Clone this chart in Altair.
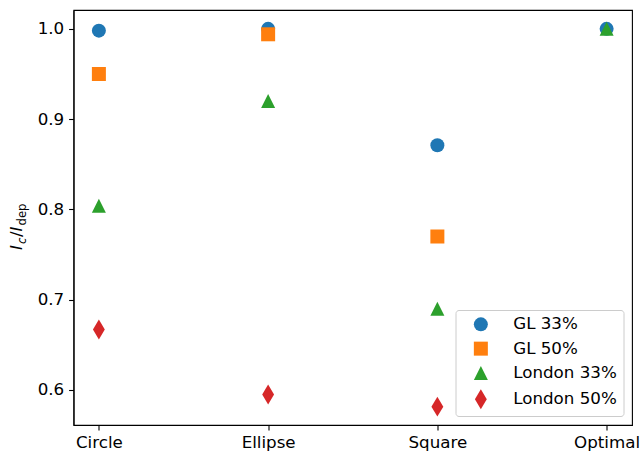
import altair as alt
import pandas as pd

# Categories along the x axis
shapes = ["Circle", "Ellipse", "Square", "Optimal"]

# Series names, in drawing order
series = ["GL 33%", "GL 50%", "London 33%", "London 50%"]

# Critical-current ratio I_c / I_dep for each geometry
gl_33 = [0.998, 1.000, 0.871, 1.000]
gl_50 = [0.950, 0.994, 0.770]
london_33 = [0.804, 0.920, 0.690, 1.000]
london_50 = [0.667, 0.595, 0.5815]

colors = ["#1f77b4", "#ff7f0e", "#2ca02c", "#d62728"]
markers = [
    "circle",
    "square",
    "M0,-1L1,1L-1,1Z",
    "M0,-1.414L0.849,0L0,1.414L-0.849,0Z",
]

rows = []
for name, vals in zip(series, [gl_33, gl_50, london_33, london_50]):
    for shape, v in zip(shapes, vals):
        rows.append({"series": name, "shape": shape, "value": v})
df = pd.DataFrame(rows)
df["idx"] = range(len(df))

FS = 16.7
W, H = 558.5, 415
PAD_L, PAD_T = 73.5, 10

legend_opts = dict(
    title=None,
    orient="bottom-right",
    offset=9,
    fillColor="white",
    strokeColor="#cccccc",
    cornerRadius=3,
    padding=6,
    symbolOffset=11,
    labelOffset=24,
    rowPadding=6.3,
    labelFontSize=FS,
    labelFont="DejaVu Sans",
    labelColor="black",
    symbolSize=196,
    symbolStrokeWidth=0,
)

points = alt.Chart(df).mark_point(filled=True, size=196, opacity=1, strokeWidth=0).encode(
    x=alt.X(
        "shape:N",
        sort=shapes,
        scale=alt.Scale(type="point", padding=0.15),
        axis=alt.Axis(title=None, labelAngle=0),
    ),
    y=alt.Y(
        "value:Q",
        scale=alt.Scale(domain=[0.5612, 1.0209], nice=False, zero=False),
        axis=alt.Axis(title=None, values=[0.6, 0.7, 0.8, 0.9, 1.0], format=".1f"),
    ),
    color=alt.Color(
        "series:N",
        sort=series,
        scale=alt.Scale(domain=series, range=colors),
        legend=alt.Legend(**legend_opts),
    ),
    shape=alt.Shape(
        "series:N",
        sort=series,
        scale=alt.Scale(domain=series, range=markers),
        legend=alt.Legend(**legend_opts),
    ),
    order=alt.Order("idx:Q"),
)

# y-axis label I_c / I_dep built from pieces (main text + subscripts)
label_pieces = [
    ("I", FS, "italic", 22.0, 250.0),
    ("c", FS * 0.7, "italic", 25.5, 244.0),
    ("/", FS, "normal", 22.0, 237.0),
    ("I", FS, "italic", 22.0, 231.5),
    ("dep", FS * 0.7, "normal", 25.5, 225.5),
]
label_layers = []
for txt, size, style, ax, ay in label_pieces:
    label_layers.append(
        alt.Chart(pd.DataFrame({"t": [txt]})).mark_text(
            angle=270,
            align="left",
            baseline="alphabetic",
            fontSize=size,
            fontStyle=style,
            font="DejaVu Sans",
            color="black",
        ).encode(
            text="t:N",
            x=alt.value(ax - PAD_L),
            y=alt.value(ay - PAD_T),
        )
    )

chart = alt.layer(points, *label_layers).properties(
    width=W,
    height=H,
    autosize=alt.AutoSizeParams(type="none"),
    padding={"left": PAD_L, "top": PAD_T, "right": 642 - PAD_L - W, "bottom": 454 - PAD_T - H},
).configure(
    font="DejaVu Sans",
).configure_view(
    stroke="black",
    strokeWidth=1.1,
).configure_axis(
    domainColor="black",
    domainWidth=1.1,
    tickColor="black",
    tickWidth=1.1,
    tickSize=4.9,
    labelPadding=4.9,
    labelFont="DejaVu Sans",
    labelFontSize=FS,
    labelColor="black",
    grid=False,
)

chart.save("out.html", embed_options={"renderer": "svg", "actions": False})
